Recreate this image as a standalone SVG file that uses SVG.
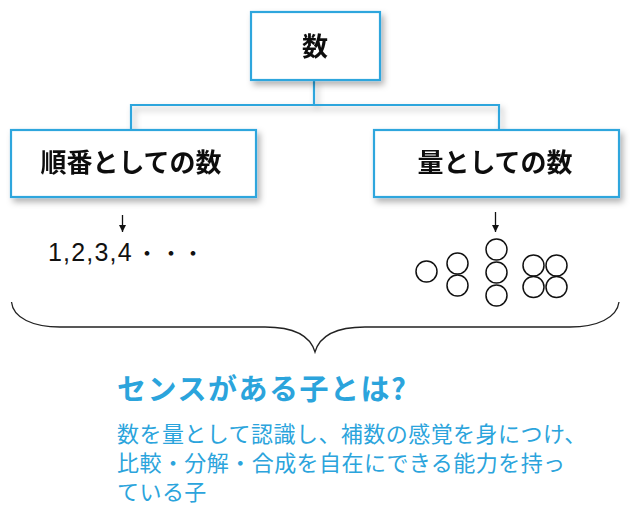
<svg xmlns="http://www.w3.org/2000/svg" width="640" height="507" viewBox="0 0 640 507">
<style>
.box{fill:#fff;stroke:#2ea6dd;stroke-width:2.2}
.lbl{font-family:"Noto Sans CJK JP","Liberation Sans",sans-serif;font-weight:bold;font-size:26px;fill:#111;text-anchor:middle}
.conn{fill:none;stroke:#2ea6dd;stroke-width:2.2}
.arw{stroke:#111;stroke-width:1.3}
.dot{fill:none;stroke:#111;stroke-width:1.5}
.blue{font-family:"Noto Sans CJK JP","Liberation Sans",sans-serif;fill:#2ba4dc}
</style>
<defs>
<filter id="sh" x="-20%" y="-20%" width="150%" height="160%">
<feDropShadow dx="3" dy="4" stdDeviation="3" flood-color="#000" flood-opacity="0.3"/>
</filter>
<marker id="ah" markerWidth="8" markerHeight="8" refX="7.5" refY="4" orient="auto" markerUnits="userSpaceOnUse" viewBox="0 0 8 8">
<path d="M0.5,0.5 L7.5,4 L0.5,7.5 Z" fill="#111"/>
</marker>
</defs>
<rect width="640" height="507" fill="#fff"/>
<g id="connectors" filter="url(#sh)">
<path class="conn" d="M314,80 V105 M131,105 H499 M131,104 V130 M499,104 V130"/>
</g>
<g id="node-number" filter="url(#sh)">
<rect class="box" x="251" y="12" width="129" height="68"/>
<text class="lbl" x="315" y="56">数</text>
</g>
<g id="node-ordinal" filter="url(#sh)">
<rect class="box" x="11" y="130" width="245" height="67"/>
<text class="lbl" x="131" y="172">順番としての数</text>
</g>
<g id="node-cardinal" filter="url(#sh)">
<rect class="box" x="374" y="130" width="245" height="67"/>
<text class="lbl" x="495" y="172">量としての数</text>
</g>
<g id="arrows">
<line class="arw" x1="122.5" y1="215" x2="122.5" y2="232" marker-end="url(#ah)"/>
<line class="arw" x1="495.5" y1="212" x2="495.5" y2="232" marker-end="url(#ah)"/>
</g>
<g id="ordinal-example">
<text y="261" font-family="'Liberation Sans','Noto Sans CJK JP',sans-serif" font-size="25" fill="#111"><tspan x="48" letter-spacing="1.2">1,2,3,4</tspan><tspan x="136" font-size="22">・</tspan><tspan x="160" font-size="22">・</tspan><tspan x="182" font-size="22">・</tspan></text>
</g>
<g id="cardinal-example">
<circle class="dot" cx="426.5" cy="271.5" r="10.5"/>
<circle class="dot" cx="457.5" cy="263.5" r="10.5"/>
<circle class="dot" cx="457.5" cy="285.5" r="10.5"/>
<circle class="dot" cx="496.5" cy="249.5" r="10.5"/>
<circle class="dot" cx="496.5" cy="272.5" r="10.5"/>
<circle class="dot" cx="496.5" cy="295.5" r="10.5"/>
<circle class="dot" cx="533.5" cy="265.5" r="10.5"/>
<circle class="dot" cx="556.5" cy="265.5" r="10.5"/>
<circle class="dot" cx="533.5" cy="287" r="10.5"/>
<circle class="dot" cx="556.5" cy="287" r="10.5"/>
</g>
<g id="brace">
<path d="M11.5,302 C13,318 33,327 60,327 L265,327 C292,327 310,335 315,352 C320,335 338,327 365,327 L570,327 C597,327 617,318 619,302" fill="none" stroke="#222" stroke-width="1.3"/>
</g>
<g id="caption">
<text class="blue" x="117" y="400" font-size="29" font-weight="bold" letter-spacing="1.5">センスがある子とは?</text>
<text class="blue" x="117" y="442" font-size="22" letter-spacing="0.45">数を量として認識し、補数の感覚を身につけ、</text>
<text class="blue" x="117" y="471" font-size="22" letter-spacing="0.45">比較・分解・合成を自在にできる能力を持っ</text>
<text class="blue" x="117" y="500" font-size="22" letter-spacing="0.45">ている子</text>
</g>
</svg>
